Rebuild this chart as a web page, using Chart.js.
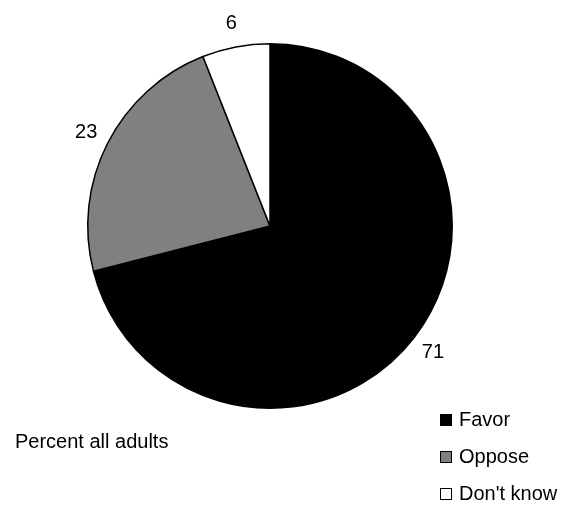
<!DOCTYPE html>
<html>
<head>
<meta charset="utf-8">
<script src="https://cdn.jsdelivr.net/npm/chart.js@4"></script>
<style>
    html, body { margin: 0; padding: 0; background: #fff; }
    #wrap { position: relative; width: 568px; height: 505px; }
</style>
</head>
<body>
<div id="wrap"><canvas id="pieChart" width="568" height="505"></canvas></div>
<script>
// Chart data
const categories = ["Favor", "Oppose", "Don't know"];
const values = [71, 23, 6];
const sliceColors = ["#000000", "#808080", "#ffffff"];
const noteText = "Percent all adults";

const FONT = "'Liberation Sans', Arial, sans-serif";

// Draws value labels outside slices, the legend and the note
const annotations = {
    id: "annotations",
    afterDraw(chart) {
        const ctx = chart.ctx;
        const meta = chart.getDatasetMeta(0);
        ctx.save();
        ctx.fillStyle = "#000";
        ctx.font = "20px " + FONT;
        ctx.textAlign = "center";
        ctx.textBaseline = "middle";

        meta.data.forEach((arc, i) => {
            const p = arc.getProps(["x", "y", "startAngle", "endAngle", "outerRadius"], true);
            const mid = (p.startAngle + p.endAngle) / 2;
            const r = p.outerRadius + 24;
            ctx.fillText(String(values[i]), p.x + Math.cos(mid) * r, p.y + Math.sin(mid) * r);
        });

        // legend
        ctx.textAlign = "left";
        categories.forEach((label, i) => {
            const y = 420 + i * 37;
            ctx.fillStyle = sliceColors[i];
            ctx.fillRect(440, y - 6, 12, 12);
            ctx.strokeStyle = "#000";
            ctx.lineWidth = 1;
            ctx.strokeRect(440.5, y - 5.5, 11, 11);
            ctx.fillStyle = "#000";
            ctx.fillText(label, 459, y);
        });

        ctx.fillText(noteText, 15, 442);
        ctx.restore();
    },
};

new Chart(document.getElementById("pieChart"), {
    type: "pie",
    data: {
        labels: categories,
        datasets: [{
            data: values,
            backgroundColor: sliceColors,
            borderColor: "#000000",
            borderWidth: 1.5,
        }],
    },
    options: {
        responsive: false,
        animation: false,
        layout: {
            padding: { left: 86, right: 114, top: 43, bottom: 96 },
        },
        plugins: {
            legend: { display: false },
            tooltip: { enabled: false },
        },
    },
    plugins: [annotations],
});
</script>
</body>
</html>
